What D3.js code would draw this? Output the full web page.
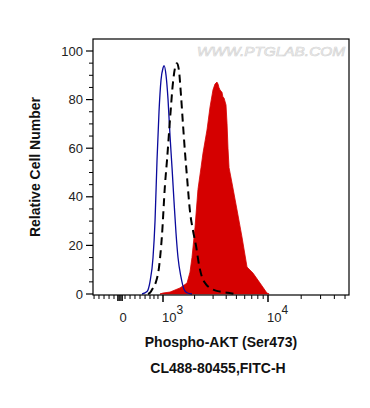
<!DOCTYPE html>
<html>
<head>
<meta charset="utf-8">
<script src="https://cdn.jsdelivr.net/npm/d3@7"></script>
<style>
  body { margin: 0; background: #fff; }
  text { font-family: "Liberation Sans", Arial, sans-serif; }
</style>
</head>
<body>
<div id="chart-area"></div>
<script>
// x values are in display (biexponential) units: 3 = 10^3, 4 = 10^4
const blueX = [2.800, 2.848, 2.876, 2.905, 2.924, 2.943, 2.962, 2.981, 3.000, 3.010, 3.029, 3.048, 3.067, 3.086, 3.105, 3.124, 3.143, 3.171, 3.200, 3.229, 3.276]
const blueY = [0, 1, 5, 15, 30, 55, 75, 88, 93, 94, 90, 80, 65, 52, 38, 25, 15, 7, 2, 0.5, 0]

const dashX = [2.857, 2.876, 2.905, 2.933, 2.962, 2.990, 3.019, 3.038, 3.067, 3.095, 3.114, 3.133, 3.152, 3.171, 3.190, 3.210, 3.229, 3.257, 3.286, 3.314, 3.343, 3.371, 3.410, 3.448, 3.495, 3.543, 3.619, 3.686]
const dashY = [0, 0.5, 2.5, 5, 11, 24, 45, 55, 72, 87, 93, 95, 92, 82, 70, 58, 48, 34, 26, 20, 12, 7, 4, 2.5, 1.5, 1, 0.5, 0]

const redX = [2.971, 3.000, 3.067, 3.162, 3.229, 3.257, 3.276, 3.305, 3.333, 3.362, 3.381, 3.419, 3.448, 3.476, 3.495, 3.514, 3.524, 3.533, 3.543, 3.562, 3.571, 3.581, 3.600, 3.610, 3.619, 3.629, 3.657, 3.705, 3.752, 3.800, 3.857, 3.924, 3.990, 4.010]
const redY = [0, 0.4, 0.8, 2.5, 4.5, 9, 15, 27.5, 43, 52, 58, 67.5, 77, 84, 86.4, 87.2, 86.4, 85, 84, 83, 81, 80.7, 77.8, 70, 60, 52, 45.7, 34.6, 23.5, 11.1, 8.6, 4.5, 0.4, 0]

// axis ticks
const yMajor = [0, 20, 40, 60, 80, 100]
const yMinor = [5, 10, 15, 25, 30, 35, 45, 50, 55, 65, 70, 75, 85, 90, 95]
const xMajor = [3, 4]
const xMajorLabels = ["3", "4"]
const xZero = 2.619
const xZeroTicks = [2.571, 2.590, 2.610]
const xLinMinor = [2.343, 2.390, 2.438, 2.486, 2.533, 2.638, 2.686, 2.733, 2.781, 2.829, 2.876, 2.914, 2.952]
const logMult = [2, 3, 4, 5, 6, 7, 8, 9]

const W = 370, H = 408
const PLOT = { LEFT: 93, RIGHT: 349, TOP: 39, BOTTOM: 295 }

const svg = d3.select("#chart-area").append("svg")
  .attr("width", W)
  .attr("height", H)

svg.append("rect").attr("width", W).attr("height", H).attr("fill", "#fff")

const x = d3.scaleLinear()
  .domain([2.333, 3, 4, 4.735])
  .range([PLOT.LEFT, 163, 268, PLOT.RIGHT])

const y = d3.scaleLinear()
  .domain([0, 100])
  .range([294, 51])

svg.append("clipPath").attr("id", "plot-clip")
  .append("rect")
  .attr("x", PLOT.LEFT).attr("y", PLOT.TOP)
  .attr("width", PLOT.RIGHT - PLOT.LEFT).attr("height", PLOT.BOTTOM - PLOT.TOP)

const plot = svg.append("g").attr("clip-path", "url(#plot-clip)")

// watermark
svg.append("text")
  .attr("x", 197)
  .attr("y", 56)
  .attr("textLength", 148)
  .attr("lengthAdjust", "spacingAndGlyphs")
  .style("font-size", "12.5px")
  .style("font-style", "italic")
  .attr("fill", "#f4f4f4")
  .attr("stroke", "#d4d4d4")
  .attr("stroke-width", 0.6)
  .text("WWW.PTGLAB.COM")

const redData = redX.map((v, i) => ({ x: v, y: redY[i] }))
const blueData = blueX.map((v, i) => ({ x: v, y: blueY[i] }))
const dashData = dashX.map((v, i) => ({ x: v, y: dashY[i] }))

const area = d3.area()
  .x(d => x(d.x))
  .y0(y(0))
  .y1(d => y(d.y))

const line = d3.line()
  .x(d => x(d.x))
  .y(d => y(d.y))
  .curve(d3.curveMonotoneX)

plot.append("path")
  .datum(redData)
  .attr("fill", "#d50000")
  .attr("stroke", "#d50000")
  .attr("stroke-width", 0.8)
  .attr("d", area)

plot.append("path")
  .datum(blueData)
  .attr("fill", "none")
  .attr("stroke", "#0a0a9c")
  .attr("stroke-width", 1.3)
  .attr("d", line)

plot.append("path")
  .datum(dashData)
  .attr("fill", "none")
  .attr("stroke", "#000")
  .attr("stroke-width", 2)
  .attr("stroke-dasharray", "8,5")
  .attr("d", line)

// frame
svg.append("rect")
  .attr("x", PLOT.LEFT).attr("y", PLOT.TOP)
  .attr("width", PLOT.RIGHT - PLOT.LEFT).attr("height", PLOT.BOTTOM - PLOT.TOP)
  .attr("fill", "none")
  .attr("stroke", "#000")
  .attr("stroke-width", 1.2)

// Y axis
const yAxis = svg.append("g").attr("class", "y axis")
yAxis.selectAll("line.major").data(yMajor).enter().append("line")
  .attr("x1", 86).attr("x2", PLOT.LEFT)
  .attr("y1", d => y(d)).attr("y2", d => y(d))
  .attr("stroke", "#000").attr("stroke-width", 1.2)
yAxis.selectAll("line.minor").data(yMinor).enter().append("line")
  .attr("x1", 89).attr("x2", PLOT.LEFT)
  .attr("y1", d => y(d)).attr("y2", d => y(d))
  .attr("stroke", "#000").attr("stroke-width", 1)
yAxis.selectAll("text").data(yMajor).enter().append("text")
  .attr("x", 83)
  .attr("y", d => y(d) + 4.5)
  .attr("text-anchor", "end")
  .style("font-size", "13px")
  .attr("fill", "#222")
  .text(d => d)

// X axis
const xAxis = svg.append("g").attr("class", "x axis")
const logMinor = []
xMajor.forEach(m => logMult.forEach(k => logMinor.push(m + Math.log10(k))))
const xMinor = xLinMinor.concat(logMinor).filter(d => x(d) <= PLOT.RIGHT)

xAxis.selectAll("line.minor").data(xMinor).enter().append("line")
  .attr("x1", d => x(d)).attr("x2", d => x(d))
  .attr("y1", PLOT.BOTTOM).attr("y2", PLOT.BOTTOM + 4)
  .attr("stroke", "#000").attr("stroke-width", 1)
xAxis.selectAll("line.zero").data(xZeroTicks).enter().append("line")
  .attr("x1", d => x(d)).attr("x2", d => x(d))
  .attr("y1", PLOT.BOTTOM).attr("y2", PLOT.BOTTOM + 6)
  .attr("stroke", "#000").attr("stroke-width", 1.6)
xAxis.selectAll("line.major").data(xMajor).enter().append("line")
  .attr("x1", d => x(d)).attr("x2", d => x(d))
  .attr("y1", PLOT.BOTTOM).attr("y2", PLOT.BOTTOM + 7)
  .attr("stroke", "#000").attr("stroke-width", 1.5)

xAxis.append("text")
  .attr("x", x(xZero))
  .attr("y", 322)
  .attr("text-anchor", "middle")
  .style("font-size", "13px")
  .attr("fill", "#222")
  .text("0")

const majorText = xAxis.selectAll("text.major").data(xMajor).enter().append("text")
  .attr("x", d => x(d) - 1)
  .attr("y", 322)
  .style("font-size", "13px")
  .attr("fill", "#222")
majorText.append("tspan").text("10")
majorText.append("tspan")
  .attr("dy", -8)
  .style("font-size", "12px")
  .text((d, i) => xMajorLabels[i])

// X label
svg.append("text")
  .attr("x", 221)
  .attr("y", 347)
  .attr("text-anchor", "middle")
  .style("font-size", "14px")
  .style("font-weight", "bold")
  .attr("fill", "#111")
  .text("Phospho-AKT (Ser473)")

svg.append("text")
  .attr("x", 218)
  .attr("y", 373)
  .attr("text-anchor", "middle")
  .style("font-size", "14px")
  .style("font-weight", "bold")
  .attr("fill", "#111")
  .text("CL488-80455,FITC-H")

// Y label
svg.append("text")
  .attr("transform", "translate(40, 167) rotate(-90)")
  .attr("text-anchor", "middle")
  .style("font-size", "14px")
  .style("font-weight", "bold")
  .attr("fill", "#111")
  .text("Relative Cell Number")
</script>
</body>
</html>
